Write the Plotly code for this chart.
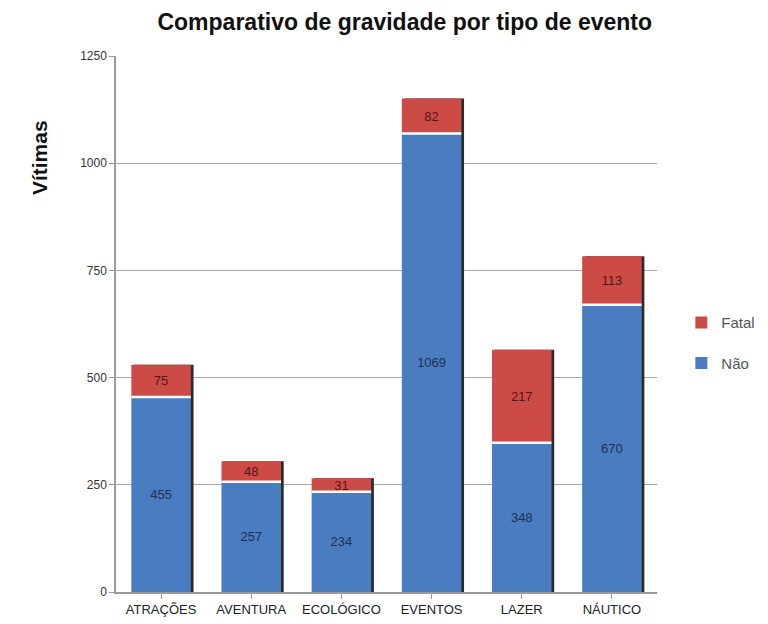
import plotly.graph_objects as go

categorias = ["ATRAÇÕES", "AVENTURA", "ECOLÓGICO", "EVENTOS", "LAZER", "NÁUTICO"]
nao = [455, 257, 234, 1069, 348, 670]
fatal = [75, 48, 31, 82, 217, 113]
ticks_y = [0, 250, 500, 750, 1000, 1250]

AZUL = "#4a7dbf"
VERMELHO = "#cd4b47"
LARGURA = 0.66
DESLOC = -LARGURA / 2

totais = [n + f for n, f in zip(nao, fatal)]
x_idx = list(range(len(categorias)))

fig = go.Figure()

# sombra escura à direita de cada coluna
fig.add_trace(go.Bar(
    x=x_idx, y=totais, width=LARGURA, offset=DESLOC + 0.03,
    marker=dict(color="#2b2b2b", line=dict(width=0)),
    showlegend=False, hoverinfo="skip",
))

fig.add_trace(go.Bar(
    name="Não", legendgroup="nao", legendrank=2,
    x=x_idx, y=nao, width=LARGURA, offset=DESLOC,
    marker=dict(color=AZUL, line=dict(width=0)),
    text=[str(v) for v in nao], textposition="inside",
    insidetextanchor="middle", textangle=0, constraintext="none",
    textfont=dict(color="#1d2f55", size=13, family="Liberation Sans, Arial"),
))

fig.add_trace(go.Bar(
    name="Fatal", legendgroup="fatal", legendrank=1,
    x=x_idx, y=fatal, base=nao, width=LARGURA, offset=DESLOC,
    marker=dict(color=VERMELHO, line=dict(width=0)),
    text=[str(v) for v in fatal], textposition="inside",
    insidetextanchor="middle", textangle=0, constraintext="none",
    textfont=dict(color="#5a1414", size=13, family="Liberation Sans, Arial"),
))

# linha branca separando os dois segmentos
for i, n in enumerate(nao):
    fig.add_shape(type="line", xref="x", yref="y",
                  x0=i + DESLOC, x1=i + DESLOC + LARGURA, y0=n, y1=n,
                  line=dict(color="white", width=2.5))

fig.update_layout(
    barmode="overlay",
    width=768, height=624,
    paper_bgcolor="white", plot_bgcolor="white",
    margin=dict(l=116, r=111, t=56, b=32, autoexpand=False),
    font=dict(family="Liberation Sans, Arial", color="#333333"),
    title=dict(text="<b>Comparativo de gravidade por tipo de evento</b>",
               x=0.527, xanchor="center", y=0.965, yanchor="middle",
               font=dict(size=23, color="#111111")),
    legend=dict(x=1.045, xanchor="left", y=0.465, yanchor="middle",
                traceorder="grouped", tracegroupgap=18,
                font=dict(size=15, color="#555555"),
                itemwidth=30, bgcolor="rgba(0,0,0,0)"),
    uniformtext=dict(mode=False),
)

fig.add_annotation(text="<b>Vítimas</b>", xref="paper", yref="paper",
                   x=-0.14, y=0.81, textangle=-90, showarrow=False,
                   xanchor="center", yanchor="middle",
                   font=dict(size=21, color="#111111"))

fig.update_xaxes(
    tickmode="array", tickvals=x_idx, ticktext=categorias,
    range=[-0.5, len(categorias) - 0.5],
    tickfont=dict(size=13, color="#222222"),
    showline=True, linecolor="#9a9a9a", linewidth=1.5,
    ticks="outside", ticklen=5, tickcolor="#9a9a9a",
    showgrid=False,
)
fig.update_yaxes(
    range=[0, 1250], tickvals=ticks_y,
    tickfont=dict(size=12, color="#333333"),
    showline=True, linecolor="#9a9a9a", linewidth=1.5,
    ticks="outside", ticklen=5, tickcolor="#9a9a9a",
    showgrid=True, gridcolor="#a8a8a8", gridwidth=1.3,
    zeroline=False,
)

fig.write_html("out.html")
